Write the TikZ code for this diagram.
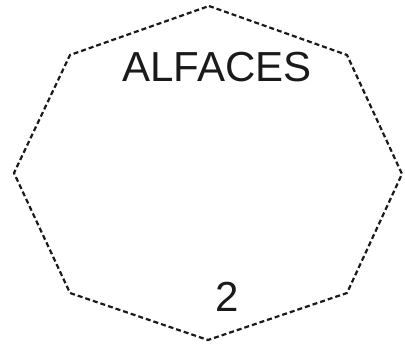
\documentclass[tikz,border=0pt]{standalone}
\usepackage{fontspec}
\setmainfont{Liberation Sans}
\definecolor{ink}{HTML}{1A1A1A}
\tikzset{
  edge/.style={draw=ink, line width=2.2pt, dash pattern=on 5pt off 3pt},
  lbl/.style={font=\fontsize{42}{44}\selectfont, text=ink, inner sep=0pt},
}

\begin{document}
\begin{tikzpicture}[x=1pt, y=-1pt]
\useasboundingbox (0,0) rectangle (405,344);

% the eight corners
\coordinate (t)  at (209,6);
\coordinate (tr) at (347,55);
\coordinate (r)  at (402,174);
\coordinate (br) at (347,293);
\coordinate (b)  at (208,340);
\coordinate (bl) at (70,293);
\coordinate (l)  at (14,173);
\coordinate (tl) at (70,55);

\draw[edge] (t) -- (tr) -- (r) -- (br) -- (b) -- (bl) -- (l) -- (tl) -- cycle;

\node[lbl] (name) at (217,67) {ALFACES};
\node[lbl] (num)  at (227,297) {2};

\end{tikzpicture}
\end{document}
